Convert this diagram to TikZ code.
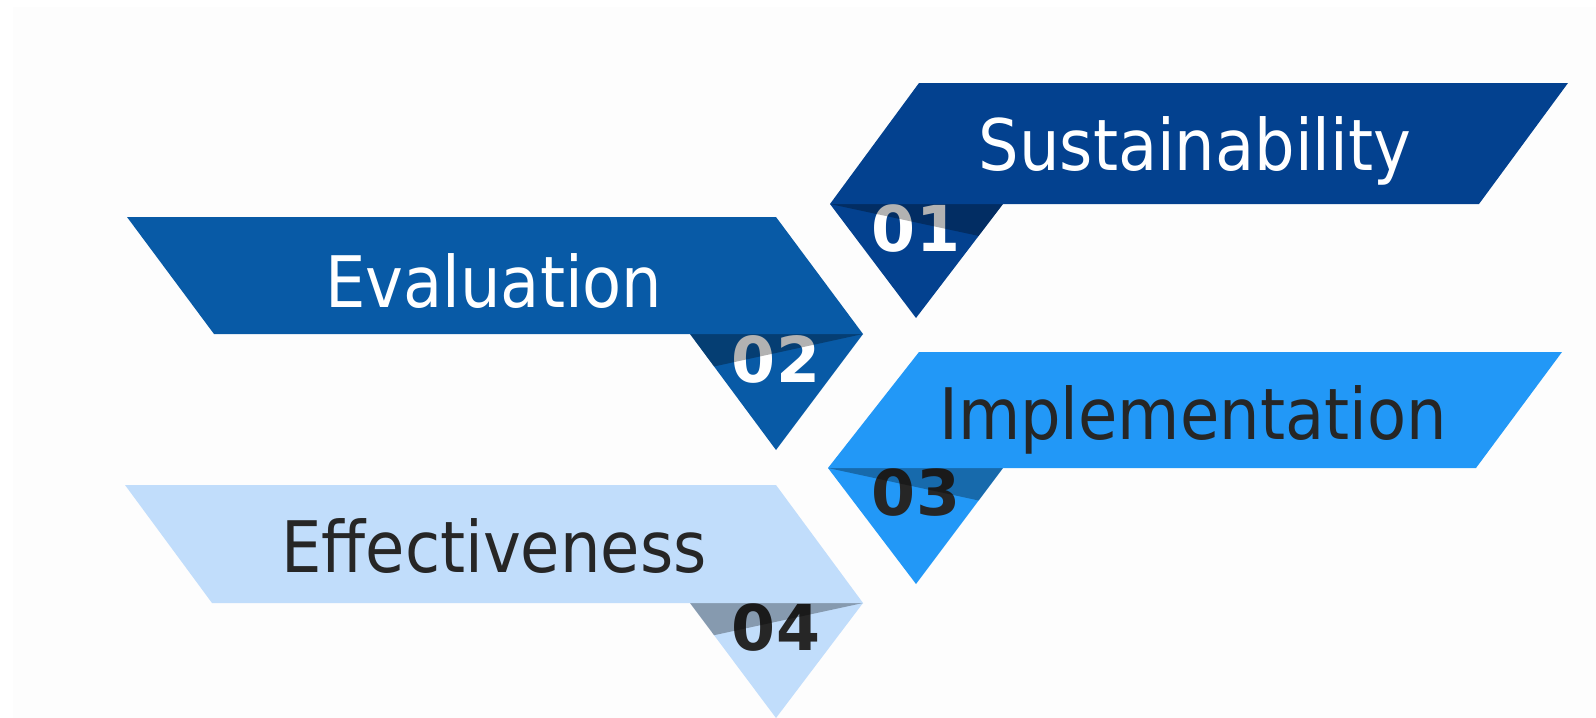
\documentclass[tikz,border=0pt]{standalone}
\usepackage{fontspec}
\setmainfont{DejaVu Sans Condensed}
\newfontfamily\numfont{DejaVu Sans}
\usetikzlibrary{calc}
\definecolor{bgcol}{HTML}{FDFDFD}
\definecolor{bandA}{HTML}{03418F}
\definecolor{bandB}{HTML}{085AA6}
\definecolor{bandC}{HTML}{2298F7}
\definecolor{bandD}{HTML}{C1DDFB}
\definecolor{darktext}{HTML}{262626}

\begin{document}
\begin{tikzpicture}[x=0.01cm,y=-0.01cm,
bandtext/.style={anchor=base,inner sep=0pt,font=\fontsize{20.2}{24}\selectfont},
bandnum/.style={anchor=base,inner sep=0pt,font=\numfont\bfseries\fontsize{18}{22}\selectfont},
shadowpart/.style={fill=black,fill opacity=.3}]
\useasboundingbox (0,0) rectangle (1596,718);
\fill[bgcol] (13,7) rectangle (1596,718);
% 01 Sustainability
\coordinate (T1l) at (830,204);
\coordinate (T1r) at (1003,204);
\coordinate (T1a) at (916,318);
\fill[bandA] (T1l)--(T1r)--(T1a)--cycle;
\node[bandnum,white] (N1) at (916,251) {01};
\fill[shadowpart] (T1l)--(T1r)--($(T1r)!.28!(T1a)$)--cycle;
\fill[bandA] (919,83)--(1568,83)--(1479,204)--(T1l)--cycle;
\node[bandtext,white] (S1) at (1195,170) {Sustainability};
% 02 Evaluation
\coordinate (T2l) at (690,334);
\coordinate (T2r) at (863,334);
\coordinate (T2a) at (776,450);
\fill[bandB] (T2l)--(T2r)--(T2a)--cycle;
\node[bandnum,white] (N2) at (776,382) {02};
\fill[shadowpart] (T2l)--(T2r)--($(T2l)!.28!(T2a)$)--cycle;
\fill[bandB] (127,217)--(776,217)--(T2r)--(214,334)--cycle;
\node[bandtext,white] (S2) at (494,307) {Evaluation};
% 03 Implementation
\coordinate (T3l) at (828,468);
\coordinate (T3r) at (1003,468);
\coordinate (T3a) at (916,584);
\fill[bandC] (T3l)--(T3r)--(T3a)--cycle;
\node[bandnum,darktext] (N3) at (916,515) {03};
\fill[shadowpart] (T3l)--(T3r)--($(T3r)!.28!(T3a)$)--cycle;
\fill[bandC] (919,352)--(1562,352)--(1476,468)--(T3l)--cycle;
\node[bandtext,darktext] (S3) at (1193,439) {Implementation};
% 04 Effectiveness
\coordinate (T4l) at (690,603);
\coordinate (T4r) at (863,603);
\coordinate (T4a) at (776,718);
\fill[bandD] (T4l)--(T4r)--(T4a)--cycle;
\node[bandnum,darktext] (N4) at (776,650) {04};
\fill[shadowpart] (T4l)--(T4r)--($(T4l)!.28!(T4a)$)--cycle;
\fill[bandD] (125,485)--(776,485)--(T4r)--(212,603)--cycle;
\node[bandtext,darktext] (S4) at (494,572) {Effectiveness};
\end{tikzpicture}
\end{document}
